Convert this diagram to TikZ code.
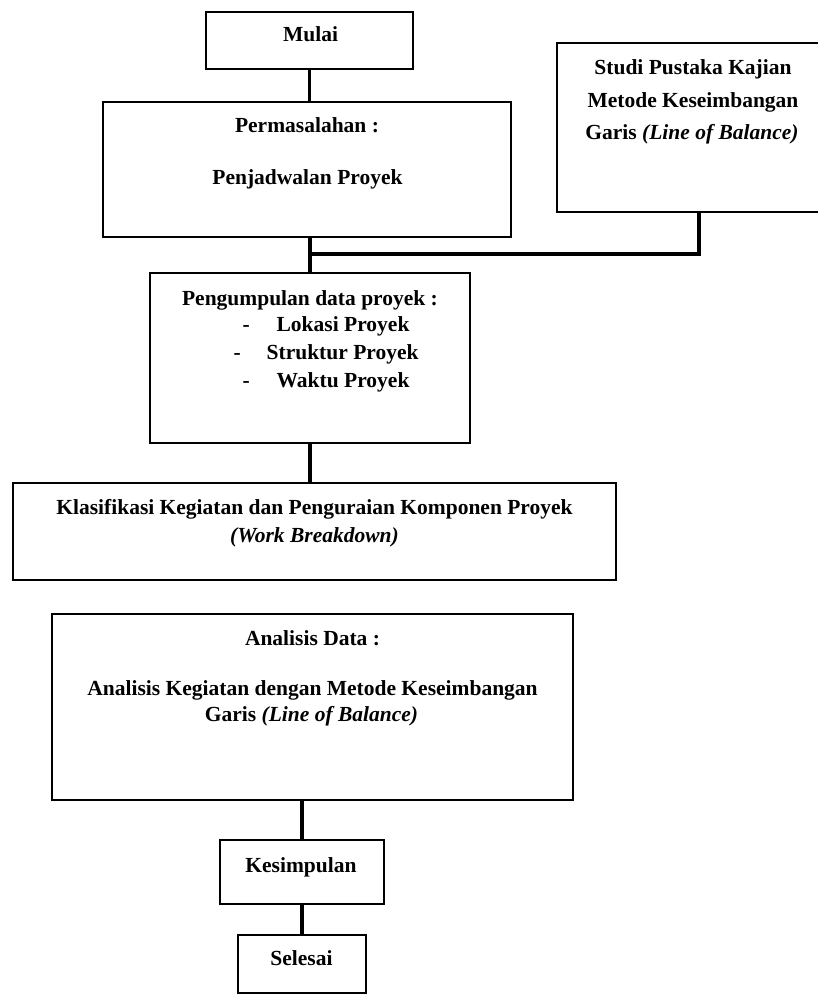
\documentclass[tikz,border=0pt]{standalone}
\usepackage{fontspec}
\setmainfont{Liberation Serif}
\newcommand\tbfont{\bfseries\fontsize{21.5}{26}\selectfont}
\begin{document}
\begin{tikzpicture}[x=1pt,y=-1pt,
  box/.style={draw=black,line width=2.7pt,inner sep=0pt,outer sep=0pt,rectangle,fill=none},
  txt/.style={font=\tbfont,anchor=base,inner sep=0pt,outer sep=0pt},
  conn/.style={line width=3.2pt,draw=black},
  thickconn/.style={line width=4.8pt,draw=black}]
\useasboundingbox[fill=white] (0,0) rectangle (817,1000);
% boxes
\node[box,minimum width=207pt,minimum height=57pt] (mulai) at (309.5,40.5) {};
\node[box,minimum width=408pt,minimum height=135pt] (perm) at (307,169.5) {};
\node[box,minimum width=284pt,minimum height=169pt] (studi) at (699,127.5) {};
\node[box,minimum width=320pt,minimum height=170pt] (peng) at (310,358) {};
\node[box,minimum width=603pt,minimum height=97pt] (klas) at (314.5,531.5) {};
\node[box,minimum width=521pt,minimum height=186pt] (ana) at (312.5,707) {};
\node[box,minimum width=164pt,minimum height=64pt] (kes) at (302,872) {};
\node[box,minimum width=128pt,minimum height=58pt] (sel) at (302,964) {};
% texts
\node[txt] (tmulai) at (310.5,42) {Mulai};
\node[txt] (tperm1) at (307,133) {Permasalahan :};
\node[txt] (tperm2) at (307.5,185) {Penjadwalan Proyek};
\node[txt] (tstudi1) at (693,75) {Studi Pustaka Kajian};
\node[txt] (tstudi2) at (693,108) {Metode Keseimbangan};
\node[txt] (tstudi3) at (692,140) {Garis \textit{(Line of Balance)}};
\node[txt] (tpeng) at (310,305) {Pengumpulan data proyek :};
\node[txt,anchor=base west] (tpeng1) at (242.5,331) {-\hspace*{27pt}Lokasi Proyek};
\node[txt,anchor=base west] (tpeng2) at (233.5,359) {-\hspace*{26pt}Struktur Proyek};
\node[txt,anchor=base west] (tpeng3) at (242.5,387) {-\hspace*{27pt}Waktu Proyek};
\node[txt] (tklas1) at (314.5,514) {Klasifikasi Kegiatan dan Penguraian Komponen Proyek};
\node[txt] (tklas2) at (314.5,542) {\textit{(Work Breakdown)}};
\node[txt] (tana1) at (312.5,645) {Analisis Data :};
\node[txt] (tana2) at (312.5,695) {Analisis Kegiatan dengan Metode Keseimbangan};
\node[txt] (tana3) at (311.5,721) {Garis \textit{(Line of Balance)}};
\node[txt] (tkes) at (301,872) {Kesimpulan};
\node[txt] (tsel) at (301.5,965) {Selesai};
% connectors
\coordinate (junc) at (311,254);
\draw[conn] (mulai.south) -- (mulai.south |- perm.north);
\draw[conn] (peng.north) -- (peng.north |- perm.south);
\draw[thickconn] (studi.south) |- (junc);
\draw[conn] (peng.south) -- (peng.south |- klas.north);
\draw[conn] (kes.north) -- (kes.north |- ana.south);
\draw[conn] (sel.north) -- (sel.north |- kes.south);
\end{tikzpicture}
\end{document}
